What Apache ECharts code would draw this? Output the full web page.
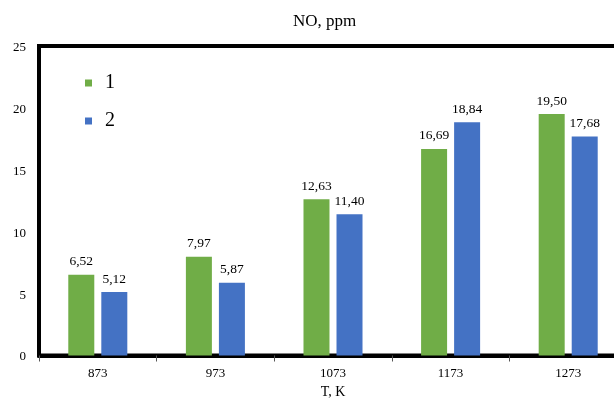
<!DOCTYPE html>
<html><head><meta charset="utf-8">
<script src="https://cdn.jsdelivr.net/npm/echarts@6/dist/echarts.min.js"></script>
<style>html,body{margin:0;padding:0;background:#fff}#c{width:614px;height:403px}</style>
</head><body><div id="c"></div>
<script>
const categories = ['873', '973', '1073', '1173', '1273'];
const series1 = [6.52, 7.97, 12.63, 16.69, 19.50];
const series2 = [5.12, 5.87, 11.40, 18.84, 17.68];
const seriesNames = ['1', '2'];
const yTicks = [0, 5, 10, 15, 20, 25];

const font = '"Liberation Serif", "Times New Roman", serif';
const fmt = p => p.value.toFixed(2).replace('.', ',');
const chart = echarts.init(document.getElementById('c'));
chart.setOption({
  animation: false,
  title: { text: 'NO, ppm', left: 288, top: 8, textStyle: { fontFamily: font, fontSize: 17, fontWeight: 'normal', color: '#000' } },
  legend: {
    orient: 'vertical', left: 80, top: 68, itemWidth: 7, itemHeight: 7, itemGap: 18,
    icon: 'rect',
    textStyle: { fontFamily: font, fontSize: 20, color: '#000', padding: [0, 0, 0, 8] },
    data: seriesNames
  },
  grid: { left: 39, width: 588, top: 46, bottom: 47.5, show: true, borderColor: '#000', borderWidth: 4, containLabel: false, outerBoundsMode: 'none' },
  xAxis: {
    type: 'category', data: categories,
    name: 'T, K', nameLocation: 'middle', nameGap: 30,
    nameTextStyle: { fontFamily: font, fontSize: 14, color: '#000' },
    axisLine: { lineStyle: { color: '#000', width: 4 } },
    axisTick: { show: true, length: 6, lineStyle: { color: '#555', width: 1 } },
    axisLabel: { fontFamily: font, fontSize: 13, color: '#000', margin: 12 }
  },
  yAxis: {
    type: 'value', min: yTicks[0], max: yTicks[yTicks.length - 1], interval: 5,
    axisLine: { show: true, lineStyle: { color: '#000', width: 4 } },
    axisTick: { show: false },
    splitLine: { show: false },
    axisLabel: { fontFamily: font, fontSize: 13, color: '#000', margin: 13, verticalAlign: 'top', padding: [-5, 0, 0, 0] }
  },
  series: [
    { name: seriesNames[0], type: 'bar', data: series1, barWidth: 26, barGap: '27%', itemStyle: { color: '#70AD47' },
      label: { show: true, position: 'top', distance: 6, formatter: fmt, fontFamily: font, fontSize: 13.5, color: '#000' } },
    { name: seriesNames[1], type: 'bar', data: series2, barWidth: 26, barGap: '27%', itemStyle: { color: '#4472C4' },
      label: { show: true, position: 'top', distance: 6, formatter: fmt, fontFamily: font, fontSize: 13.5, color: '#000' } }
  ]
});
</script></body></html>
